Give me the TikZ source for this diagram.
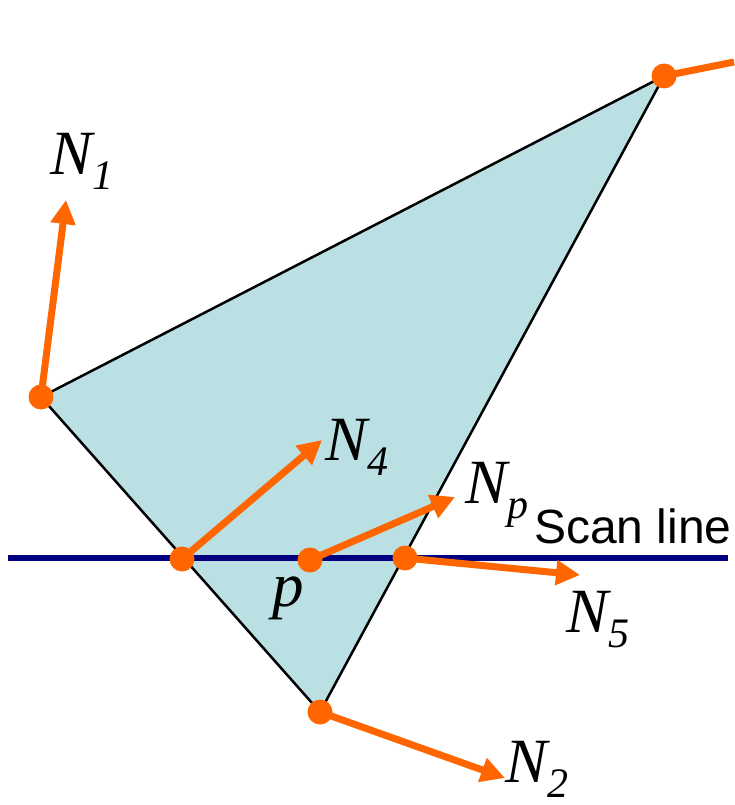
\documentclass[tikz,border=0pt]{standalone}
\usepackage{fontspec}
\setmainfont{Liberation Serif}
\setsansfont{Liberation Sans}
\usetikzlibrary{arrows.meta}
\definecolor{normalorange}{RGB}{255,102,0}
\definecolor{polyfill}{RGB}{187,224,227}
\definecolor{scannavy}{RGB}{0,0,128}
\newcommand{\normlabel}[2]{\fontsize{63}{63}\selectfont\itshape #1\raisebox{-15pt}{\fontsize{42}{42}\selectfont #2}}

\begin{document}
\begin{tikzpicture}[x=1pt,y=-1pt,
  vertexdot/.style={circle,fill=normalorange,inner sep=0pt,minimum size=25pt},
  normalvec/.style={normalorange,line width=7pt,-{Triangle[length=24pt,width=24pt]}},
  lbl/.style={inner sep=0pt,anchor=base west}]
  \useasboundingbox (0,0) rectangle (734,805);
  \coordinate (v1) at (41,397);
  \coordinate (v2) at (320,712);
  \coordinate (v3) at (664,76);
  \coordinate (sl1) at (8,558);
  \coordinate (sl2) at (728,558);
  \coordinate (a) at (182,559);
  \coordinate (b) at (405,558);
  \coordinate (p) at (310,560);
  \coordinate (n1tip) at (66,200);
  \coordinate (n2tip) at (505,778);
  \coordinate (n3end) at (734,62);
  \coordinate (n4tip) at (322,440);
  \coordinate (n5tip) at (580,575);
  \coordinate (nptip) at (455,497);
  \filldraw[fill=polyfill,line width=2.5pt,line join=round] (v1) -- (v3) -- (v2) -- cycle;
  \draw[scannavy,line width=6pt] (sl1) -- (sl2);
  \draw[normalvec] (v1) -- (n1tip);
  \draw[normalvec] (v2) -- (n2tip);
  \draw[normalorange,line width=7pt] (v3) -- (n3end);
  \draw[normalvec] (a) -- (n4tip);
  \draw[normalvec] (b) -- (n5tip);
  \draw[normalvec] (p) -- (nptip);
  \foreach \pt in {v1,v2,v3,a,b,p}
    \node[vertexdot] at (\pt) {};
  \node[lbl] (l1) at (50,175) {\normlabel{N}{1}};
  \node[lbl] (l4) at (325,460) {\normlabel{N}{4}};
  \node[lbl] (lp) at (465,503) {\normlabel{N}{p}};
  \node[lbl] (l5) at (566,632) {\normlabel{N}{5}};
  \node[lbl] (l2) at (505,782) {\normlabel{N}{2}};
  \node[lbl,font=\fontsize{63}{63}\selectfont\itshape] (lpt) at (272,606) {p};
  \node[lbl,font=\sffamily\fontsize{48}{48}\selectfont] (scan) at (534,543) {Scan line};
\end{tikzpicture}
\end{document}
